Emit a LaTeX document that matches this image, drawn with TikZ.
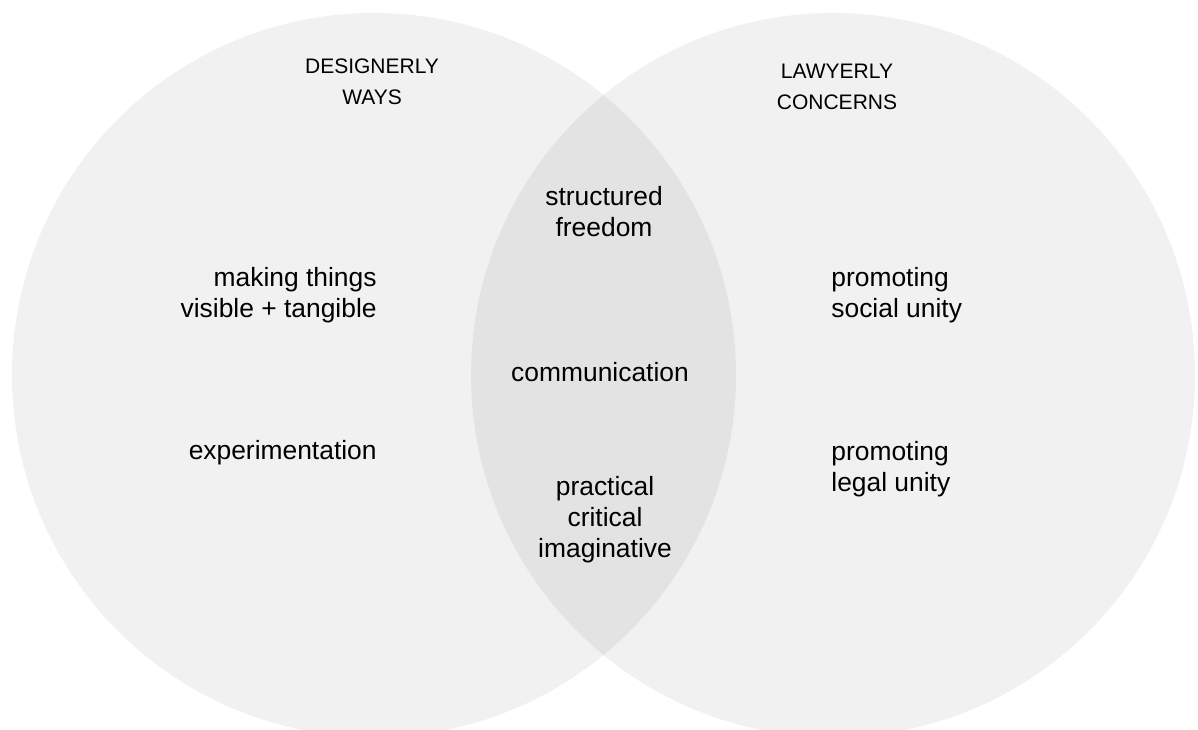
\documentclass[tikz,border=0pt]{standalone}
\usepackage{fontspec}
\setmainfont{Liberation Sans}
\usepackage{tikz}
\usetikzlibrary{positioning}
\definecolor{setgray}{RGB}{241,241,241}
\definecolor{lensgray}{RGB}{227,227,227}
\tikzstyle{setcircle}=[circle,fill=setgray,minimum size=362pt,inner sep=0pt]
\tikzstyle{heading}=[font={\fontsize{10.5}{15.5}\selectfont},align=center,anchor=base,inner sep=0pt]
\tikzstyle{leftitem}=[font={\fontsize{13.2}{15.5}\selectfont},align=right,anchor=base east,inner sep=0pt]
\tikzstyle{rightitem}=[font={\fontsize{13.2}{15.5}\selectfont},align=left,anchor=base west,inner sep=0pt]
\tikzstyle{lensitem}=[font={\fontsize{13.2}{15.5}\selectfont},align=center,anchor=base,inner sep=0pt]

\begin{document}
\begin{tikzpicture}[x=0.5pt,y=-0.5pt]

  \useasboundingbox (0,0) rectangle (1198,729);
  \fill[white] (0,0) rectangle (1198,729);
  \clip (0,0) rectangle (1198,729);

  % the two sets
  \node[setcircle] (design) at (374,375) {};
  \node[setcircle] (law) at (833,375) {};

  % overlap
  \begin{scope}
    \clip (design.center) circle (362);
    \fill[lensgray] (law.center) circle (362);
  \end{scope}

  % base = baseline of the last line
  \node[heading] (designhead) at (372,104) {DESIGNERLY\\WAYS};
  \node[heading] (lawhead) at (837,109) {LAWYERLY\\CONCERNS};

  \foreach \x/\y/\name/\text in {377/317/making/{making things\\visible + tangible}, 377/459/experiment/experimentation}
          \node[leftitem] (\name) at (\x,\y) {\text};

  \foreach \x/\y/\name/\text in {831/317/social/{promoting\\social unity}, 831/491/legal/{promoting\\legal unity}}
          \node[rightitem] (\name) at (\x,\y) {\text};

  \foreach \x/\y/\name/\text in {604/236/freedom/{structured\\freedom}, 600/381/communication/communication, 605/557/practical/{practical\\critical\\imaginative}}
          \node[lensitem] (\name) at (\x,\y) {\text};

\end{tikzpicture}
\end{document}
